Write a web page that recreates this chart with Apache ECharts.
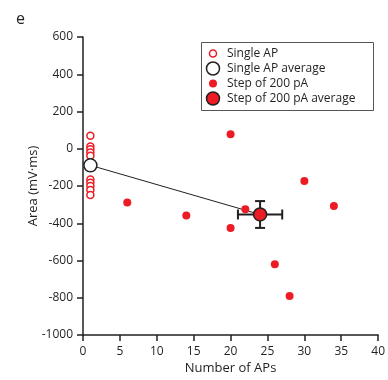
<!DOCTYPE html>
<html><head><meta charset="utf-8">
<script src="https://cdn.jsdelivr.net/npm/echarts@6/dist/echarts.min.js"></script>
<style>html,body{margin:0;padding:0;background:#fff}#c{width:388px;height:380px}</style>
</head><body><div id="c"></div>
<script>
// Data
const singleAP_x = [1,1,1,1,1,1,1,1,1,1];
const singleAP_y = [70, 12, -3, -20, -38, -165, -182, -200, -222, -248];
const singleAPAvg = [1, -89];
const step_x = [6, 14, 20, 20, 22, 26, 28, 30, 34];
const step_y = [-289, -358, 78, -425, -325, -620, -791, -173, -307];
const stepAvg = [24, -353];
const stepAvgErrX = 3;
const stepAvgErrY = 72;
const xTicks = [0,5,10,15,20,25,30,35,40];
const yTicks = [-1000,-800,-600,-400,-200,0,200,400,600];
const legendNames = ['Single AP','Single AP average','Step of 200 pA','Step of 200 pA average'];

const RED = '#ed1c24';
const INK = '#231f20';
const FONT = '"Open Sans", "Liberation Sans", sans-serif';

const chart = echarts.init(document.getElementById('c'), null, {renderer:'canvas'});

// legend drawn as graphic: icon styles per entry
const legendIcons = [
  {r:3.5, fill:'#fff', stroke:RED, lw:1.5},
  {r:6.5, fill:'#fff', stroke:INK, lw:1.5},
  {r:4, fill:RED, stroke:null, lw:0},
  {r:6.5, fill:RED, stroke:INK, lw:1.5}
];
const legendRowY = [53.5, 68.5, 83.5, 98.5];
const legendGraphics = [{type:'rect', shape:{x:201.5, y:42.5, width:172, height:68}, style:{fill:'#fff', stroke:'#555', lineWidth:1}, z:100}];
legendNames.forEach((n,i)=>{
  const ic = legendIcons[i];
  legendGraphics.push({type:'circle', shape:{cx:213, cy:legendRowY[i], r:ic.r}, style:{fill:ic.fill, stroke:ic.stroke, lineWidth:ic.lw}, z:101});
  legendGraphics.push({type:'text', x:227, y:legendRowY[i], style:{text:n, fontFamily:FONT, fontSize:12, fill:INK, verticalAlign:'middle', align:'left'}, z:101});
});

const option = {
  animation:false,
  backgroundColor:'#fff',
  title:{text:'e', left:11, top:6, textStyle:{fontFamily:FONT, fontSize:16, fontWeight:'normal', color:INK}},
  grid:{left:83, right:9, top:37, bottom:45, containLabel:false},
  graphic:legendGraphics,
  xAxis:{
    type:'value', min:xTicks[0], max:xTicks[xTicks.length-1], interval:5,
    splitLine:{show:false},
    axisLine:{show:true, onZero:false, lineStyle:{color:INK, width:1.5}},
    axisTick:{show:true, inside:false, length:6, lineStyle:{color:INK, width:1.5}},
    axisLabel:{fontFamily:FONT, fontSize:12, color:INK, margin:11, formatter:v=>String(v)},
    name:'Number of APs', nameLocation:'middle', nameGap:27, nameMoveOverlap:false,
    nameTextStyle:{fontFamily:FONT, fontSize:13, color:INK}
  },
  yAxis:{
    type:'value', min:yTicks[0], max:yTicks[yTicks.length-1], interval:200,
    splitLine:{show:false},
    axisLine:{show:true, onZero:false, lineStyle:{color:INK, width:1.5}},
    axisTick:{show:true, inside:false, length:6, lineStyle:{color:INK, width:1.5}},
    axisLabel:{fontFamily:FONT, fontSize:12, color:INK, margin:10, formatter:v=>String(v)},
    name:'Area (mV·ms)', nameLocation:'middle', nameGap:43, nameMoveOverlap:false,
    nameTextStyle:{fontFamily:FONT, fontSize:13, color:INK}
  },
  series:[
    {type:'line', data:[singleAPAvg, stepAvg], symbol:'none', lineStyle:{color:INK, width:1}, z:1, silent:true},
    {name:legendNames[0], type:'scatter', data:singleAP_x.map((x,i)=>[x, singleAP_y[i]]),
      symbol:'circle', symbolSize:7, itemStyle:{color:'#fff', borderColor:RED, borderWidth:1.5, opacity:1}, z:2},
    {name:legendNames[1], type:'scatter', data:[singleAPAvg],
      symbol:'circle', symbolSize:13, itemStyle:{color:'#fff', borderColor:INK, borderWidth:1.5, opacity:1}, z:3},
    {name:legendNames[2], type:'scatter', data:step_x.map((x,i)=>[x, step_y[i]]),
      symbol:'circle', symbolSize:8, itemStyle:{color:RED, borderWidth:0, opacity:1}, z:2},
    {type:'custom', z:4, silent:true, data:[[stepAvg[0], stepAvg[1], stepAvgErrX, stepAvgErrY]],
      renderItem:function(params, api){
        const x = api.value(0), y = api.value(1), ex = api.value(2), ey = api.value(3);
        const l = api.coord([x-ex, y]), r = api.coord([x+ex, y]);
        const t = api.coord([x, y+ey]), b = api.coord([x, y-ey]);
        const c = 5;
        const st = {stroke:INK, lineWidth:2};
        return {type:'group', children:[
          {type:'line', shape:{x1:l[0], y1:l[1], x2:r[0], y2:r[1]}, style:st},
          {type:'line', shape:{x1:l[0], y1:l[1]-c, x2:l[0], y2:l[1]+c}, style:st},
          {type:'line', shape:{x1:r[0], y1:r[1]-c, x2:r[0], y2:r[1]+c}, style:st},
          {type:'line', shape:{x1:t[0], y1:t[1], x2:b[0], y2:b[1]}, style:st},
          {type:'line', shape:{x1:t[0]-c, y1:t[1], x2:t[0]+c, y2:t[1]}, style:st},
          {type:'line', shape:{x1:b[0]-c, y1:b[1], x2:b[0]+c, y2:b[1]}, style:st}
        ]};
      }},
    {name:legendNames[3], type:'scatter', data:[stepAvg],
      symbol:'circle', symbolSize:13, itemStyle:{color:RED, borderColor:INK, borderWidth:1.5, opacity:1}, z:5}
  ]
};
chart.setOption(option);
</script>
</body></html>
